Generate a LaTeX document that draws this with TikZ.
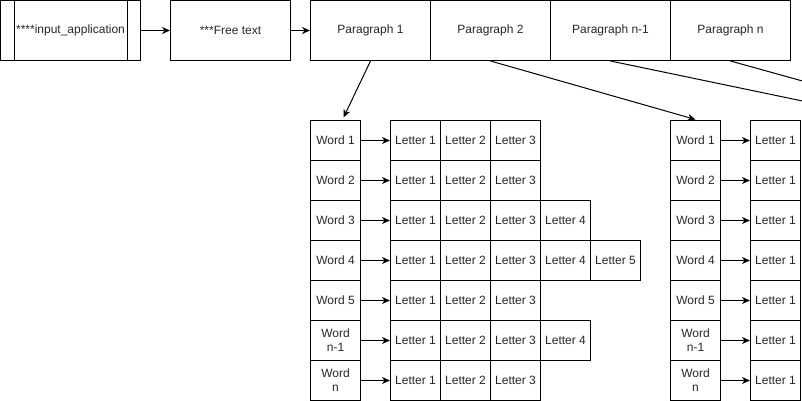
\documentclass[tikz,border=0pt]{standalone}
\usepackage{fontspec}
\setmainfont{Liberation Sans}
\usetikzlibrary{arrows.meta}
\begin{document}
\begin{tikzpicture}[x=1pt,y=-1pt,line width=1pt,
  cell/.style={draw,rectangle,inner sep=0pt,minimum width=50pt,minimum height=40pt,
    font=\fontsize{12}{14}\selectfont,align=center,text=black!85},
  bigbox/.style={draw,rectangle,inner sep=0pt,minimum width=120pt,minimum height=60pt,
    font=\fontsize{12}{14}\selectfont,text=black!85},
  arr/.style={-{Stealth[length=8pt,width=7pt,inset=2.5pt]}},
  lnk/.style={line width=1pt}]
\useasboundingbox (-0.5,-0.5) rectangle (801.5,400.5);
\clip (-0.5,-0.5) rectangle (801.5,400.5);
% top row
\node[bigbox,minimum width=140pt] (inp) at (70,30) {****input\_application};
\draw ([xshift=14pt]inp.north west) -- ([xshift=14pt]inp.south west);
\draw ([xshift=-14pt]inp.north east) -- ([xshift=-14pt]inp.south east);
\node[bigbox] (ft) at (230,30) {***Free text};
\node[bigbox] (p1) at (370,30) {Paragraph 1};
\node[bigbox] (p2) at (490,30) {Paragraph 2};
\node[bigbox] (p3) at (610,30) {Paragraph n-1};
\node[bigbox] (p4) at (730,30) {Paragraph n};
\draw[arr] (inp) -- (ft);
\draw[arr] (ft) -- (p1);
% group A
\foreach \r/\t/\n in {1/Word 1/3, 2/Word 2/3, 3/Word 3/4, 4/Word 4/5, 5/Word 5/3, 6/Word\\n-1/4, 7/Word\\n/3}{
  \node[cell] (wa\r) at (335,100+40*\r) {\t};
  \foreach \c in {1,...,\n}{
    \node[cell] (la\r-\c) at (365+50*\c,100+40*\r) {Letter \c};
  }
  \draw[arr] (wa\r) -- (la\r-1);
  \node[cell] (wb\r) at (695,100+40*\r) {\t};
  \node[cell] (lb\r) at (775,100+40*\r) {Letter 1};
  \draw[arr] (wb\r) -- (lb\r);
}
% paragraph links
\coordinate (t1) at (343,117);
\coordinate (t2) at (695,119);
\coordinate (e3) at (802,100.5);
\coordinate (e4) at (802,80.5);
\draw[arr] (p1.south) -- (t1);
\draw[arr] (p2.south) -- (t2);
\draw (p3.south) -- (e3);
\draw (p4.south) -- (e4);
\end{tikzpicture}
\end{document}
